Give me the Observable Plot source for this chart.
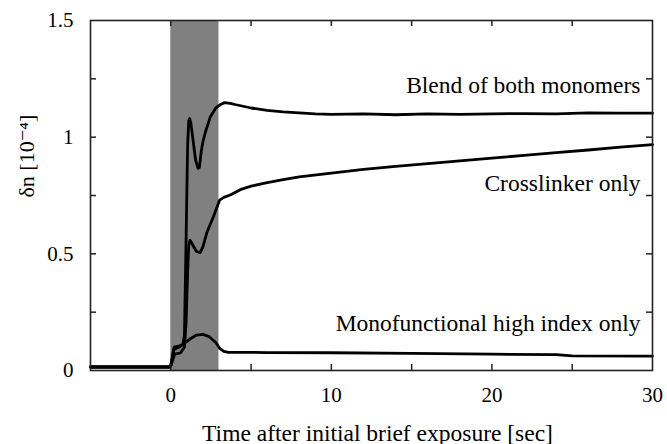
<!DOCTYPE html>
<html>
<head>
<meta charset="utf-8">
<script src="https://cdn.jsdelivr.net/npm/d3@7"></script>
<script src="https://cdn.jsdelivr.net/npm/@observablehq/plot@0.6"></script>
<style>
  html, body { margin: 0; padding: 0; background: #fff; }
  #chart { width: 667px; height: 444px; }
  #chart svg, #chart svg text { font-family: "Liberation Serif", "DejaVu Serif", serif !important; }
</style>
</head>
<body>
<div id="chart"></div>
<script>
// ---- data ----
const blendT = [-5, -0.1, 0, 0.2, 0.5, 0.75, 0.85, 0.95, 1.05, 1.12, 1.18, 1.25, 1.4, 1.55, 1.7, 1.78, 1.9, 2.0, 2.15, 2.45, 2.8, 3.1, 3.35, 3.7, 4, 5, 6, 7, 8, 9, 10, 12, 14, 16, 18, 20, 22, 24, 26, 28, 30];
const blendV = [0.015, 0.015, 0.02, 0.09, 0.1, 0.11, 0.15, 0.55, 0.97, 1.07, 1.08, 1.06, 0.98, 0.9, 0.866, 0.87, 0.94, 0.98, 1.02, 1.085, 1.125, 1.14, 1.148, 1.145, 1.14, 1.125, 1.115, 1.108, 1.104, 1.1, 1.098, 1.1, 1.096, 1.1, 1.098, 1.1, 1.101, 1.1, 1.104, 1.103, 1.103];

const crossT = [-5, -0.1, 0, 0.25, 0.6, 0.85, 0.95, 1.05, 1.12, 1.2, 1.35, 1.6, 1.83, 2.0, 2.24, 2.66, 3.04, 3.3, 3.7, 4.33, 5, 6, 7, 8, 10, 12, 14, 16, 18, 20, 22, 24, 26, 28, 30];
const crossV = [0.015, 0.015, 0.02, 0.07, 0.075, 0.1, 0.2, 0.42, 0.54, 0.558, 0.54, 0.51, 0.505, 0.53, 0.59, 0.66, 0.73, 0.742, 0.752, 0.775, 0.79, 0.805, 0.818, 0.83, 0.846, 0.862, 0.875, 0.887, 0.898, 0.91, 0.922, 0.934, 0.945, 0.957, 0.968];

const monoT = [-5, -0.1, 0, 0.2, 0.5, 0.7, 0.9, 1.2, 1.6, 2.0, 2.4, 2.8, 3.05, 3.3, 3.6, 4, 6, 10, 15, 20, 24, 25, 30];
const monoV = [0.015, 0.015, 0.02, 0.1, 0.105, 0.11, 0.12, 0.135, 0.152, 0.155, 0.145, 0.12, 0.095, 0.082, 0.078, 0.078, 0.077, 0.076, 0.073, 0.07, 0.068, 0.063, 0.062];

const seriesNames = ["Blend of both monomers", "Crosslinker only", "Monofunctional high index only"];
const labelX = [29.25, 29.25, 29.25];
const labelY = [1.223, 0.80, 0.20];

const exposureStart = [0];
const exposureEnd = [3];

const xTickValues = [0, 10, 20, 30];
const xMinorTicks = [0, 5, 10, 15, 20, 25];
const yTickValues = [0, 0.5, 1, 1.5];
const yMinorTicks = [0.25, 0.5, 0.75, 1, 1.25];

const xTitle = "Time after initial brief exposure [sec]";
const yTitle = "δn [10⁻⁴]";

// ---- build tables ----
const series = [[blendT, blendV], [crossT, crossV], [monoT, monoV]];
const rows = [];
series.forEach(([ts, vs], i) => ts.forEach((t, j) => rows.push({name: seriesNames[i], t, v: vs[j]})));
const labels = seriesNames.map((name, i) => ({name, x: labelX[i], y: labelY[i]}));
const shade = exposureStart.map((s, i) => ({x1: s, x2: exposureEnd[i]}));

const W = 667, H = 444, mL = 90, mR = 15, mT = 20, mB = 74;
const plotW = W - mL - mR, plotH = H - mT - mB;
const tickLen = 6;
const serif = "Liberation Serif";

const chart = Plot.plot({
  width: W,
  height: H,
  marginLeft: mL,
  marginRight: mR,
  marginTop: mT,
  marginBottom: mB,
  style: {fontFamily: serif, background: "#fff", color: "#000"},
  x: {domain: [-5, 30]},
  y: {domain: [0, 1.5]},
  marks: [
    Plot.rect(shade, {x1: "x1", x2: "x2", y1: 0, y2: 1.5, fill: "#808080"}),
    Plot.line(rows, {x: "t", y: "v", z: "name", stroke: "#000", strokeWidth: 2.8, strokeLinejoin: "round"}),
    Plot.tickY(yMinorTicks, {y: d => d, insetRight: plotW - tickLen, stroke: "#222", strokeWidth: 1.5}),
    Plot.tickY(yMinorTicks, {y: d => d, insetLeft: plotW - tickLen, stroke: "#222", strokeWidth: 1.5}),
    Plot.tickX(xMinorTicks, {x: d => d, insetTop: plotH - tickLen, stroke: "#222", strokeWidth: 1.5}),
    Plot.tickX(xMinorTicks, {x: d => d, insetBottom: plotH - tickLen, stroke: "#222", strokeWidth: 1.5}),
    Plot.frame({stroke: "#222", strokeWidth: 1.6}),
    Plot.axisX({ticks: xTickValues, tickSize: 0, tickPadding: 17, fontSize: 21, fontFamily: serif, label: null, tickFormat: d => String(d), fill: "#000"}),
    Plot.axisY({ticks: yTickValues, tickSize: 0, tickPadding: 17, fontSize: 21, fontFamily: serif, label: null, tickFormat: d => String(d), fill: "#000"}),
    Plot.text(labels, {x: "x", y: "y", text: "name", textAnchor: "end", fontSize: 23.5, fontFamily: serif, fill: "#000"}),
    Plot.text([xTitle], {frameAnchor: "bottom", text: d => d, dy: 70, dx: 6, fontSize: 23.5, fontFamily: serif, fill: "#000"}),
    Plot.text([yTitle], {frameAnchor: "left", text: d => d, rotate: -90, dx: -64, dy: 2, fontSize: 22, fontFamily: serif, fill: "#000"})
  ]
});
document.getElementById("chart").appendChild(chart);
</script>
</body>
</html>
